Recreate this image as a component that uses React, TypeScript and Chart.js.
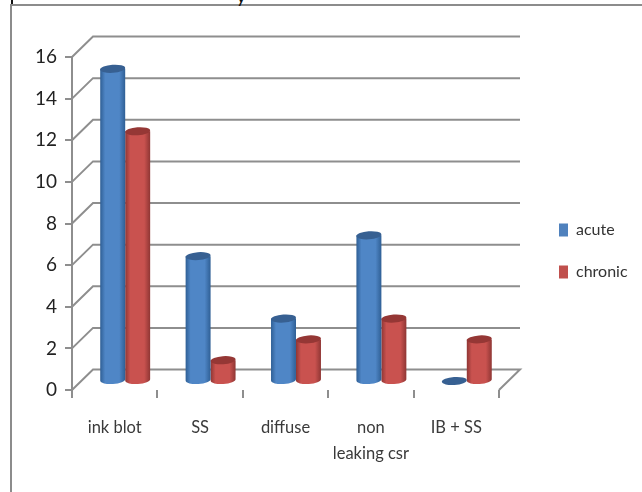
import React, { useEffect, useRef } from "react";
import { Chart, registerables } from "chart.js";

Chart.register(...registerables);

const categories: (string | string[])[] = ["ink blot", "SS", "diffuse", ["non", "leaking csr"], "IB + SS"];
const acute = [15, 6, 3, 7, 0];
const chronic = [12, 1, 2, 3, 2];
const yTicks = [0, 2, 4, 6, 8, 10, 12, 14, 16];

const FONT = "Lato, 'Open Sans', sans-serif";
const GREY = "#8e8e8e";
const DEPTH_X = 21;
const DEPTH_Y = -20.5;
const BAR_DX = 10.5;
const BAR_DY = -9;
const TILT = -0.07;
const RY = 4;

const palette = [
  { edge: "#2f5f95", mid: "#4f86c6", top: "#376092" },
  { edge: "#8f3634", mid: "#c9524f", top: "#953735" },
];

// Walls and floor of the 3D box, derived from the value scale.
const boxPlugin = {
  id: "box",
  beforeDatasetsDraw(chart: any) {
    const { ctx, scales } = chart;
    const y = scales.y;
    const left = scales.x.left;
    const right = scales.x.right;
    ctx.save();
    ctx.strokeStyle = GREY;
    ctx.lineWidth = 2;
    yTicks.forEach((v) => {
      const py = y.getPixelForValue(v);
      ctx.beginPath();
      ctx.moveTo(left, py);
      ctx.lineTo(left + DEPTH_X, py + DEPTH_Y);
      ctx.lineTo(right + DEPTH_X, py + DEPTH_Y);
      if (v === 0) ctx.lineTo(right, py);
      ctx.stroke();
    });
    ctx.restore();
  },
};

// Replaces the flat bars with shaded cylinders at the same scale positions.
const cylinderPlugin = {
  id: "cylinders",
  beforeDatasetDraw(chart: any, args: any) {
    const { ctx } = chart;
    const colors = palette[args.index];
    ctx.save();
    args.meta.data.forEach((bar: any) => {
      const p = bar.getProps(["x", "y", "base", "width"], true);
      const cx = p.x + BAR_DX;
      const rx = p.width / 2;
      const top = p.y + BAR_DY;
      const bottom = p.base + BAR_DY;
      if (bottom - top > 0.5) {
        const g = ctx.createLinearGradient(cx - rx, 0, cx + rx, 0);
        g.addColorStop(0, colors.edge);
        g.addColorStop(0.2, colors.mid);
        g.addColorStop(0.76, colors.mid);
        g.addColorStop(1, colors.edge);
        ctx.fillStyle = g;
        ctx.beginPath();
        ctx.moveTo(cx - rx, top);
        ctx.lineTo(cx - rx, bottom);
        ctx.ellipse(cx, bottom, rx, RY, TILT, Math.PI, 0, true);
        ctx.lineTo(cx + rx, top);
        ctx.closePath();
        ctx.fill();
      }
      ctx.fillStyle = colors.top;
      ctx.beginPath();
      ctx.ellipse(cx, top, rx, RY, TILT, 0, Math.PI * 2);
      ctx.fill();
    });
    ctx.restore();
    return false;
  },
};

// Places the overlay legend to the right of the box.
const legendPlacement = {
  id: "legendPlacement",
  afterLayout(chart: any) {
    const legend = chart.legend;
    legend.left = 533;
    legend.right = 642;
    legend.top = 196;
    legend.bottom = 492;
  },
};

export default function App() {
  const ref = useRef<HTMLCanvasElement>(null);

  useEffect(() => {
    document.body.style.margin = "0";
    const chart = new Chart(ref.current as HTMLCanvasElement, {
      type: "bar",
      data: {
        labels: categories as any,
        datasets: [
          { label: "acute", data: acute, backgroundColor: "#4f81bd", borderWidth: 0 },
          { label: "chronic", data: chronic, backgroundColor: "#c0504d", borderWidth: 0 },
        ],
      },
      options: {
        responsive: false,
        animation: false,
        events: [],
        layout: { padding: { left: 0, top: 57, right: 143, bottom: 0 } },
        datasets: { bar: { categoryPercentage: 0.585, barPercentage: 1 } },
        scales: {
          x: {
            grid: { display: true, drawOnChartArea: false, drawTicks: true, tickLength: 8, color: GREY, lineWidth: 2 },
            border: { display: false },
            ticks: {
              color: "#3a3a3a",
              font: { family: FONT, size: 16.5, lineHeight: 1.56 },
              padding: 17,
              maxRotation: 0,
              autoSkip: false,
            },
            afterFit(scale: any) {
              scale.height = 102;
            },
          },
          y: {
            min: 0,
            max: 16,
            grid: { display: true, drawOnChartArea: false, drawTicks: true, tickLength: 7, color: GREY, lineWidth: 2 },
            border: { display: true, color: GREY, width: 2 },
            afterBuildTicks(scale: any) {
              scale.ticks = yTicks.map((value) => ({ value }));
            },
            ticks: {
              color: "#222222",
              font: { family: FONT, size: 19 },
              padding: 8,
            },
            afterFit(scale: any) {
              scale.width = 72;
            },
          },
        },
        plugins: {
          title: { display: false },
          tooltip: { enabled: false },
          legend: {
            position: "chartArea",
            align: "start",
            labels: {
              boxWidth: 9,
              boxHeight: 13,
              padding: 26,
              color: "#333333",
              font: { family: FONT, size: 16 },
            },
          },
        },
      } as any,
      plugins: [boxPlugin, cylinderPlugin, legendPlacement],
    });
    return () => chart.destroy();
  }, []);

  return (
    <div style={{ position: "absolute", left: 0, top: 0, width: 642, height: 492, background: "#fff", overflow: "hidden" }}>
      <div style={{ position: "absolute", left: 11, top: 0, width: 2, height: 5, background: "#111" }} />
      <div style={{ position: "absolute", left: 10, top: 4, width: 632, height: 2, background: "#8c8c8c" }} />
      <div style={{ position: "absolute", left: 10, top: 4, width: 2, height: 488, background: "#8c8c8c" }} />
      <div style={{ position: "absolute", left: 236, top: -17, fontFamily: FONT, fontSize: 20, lineHeight: "24px", color: "#111" }}>y</div>
      <canvas ref={ref} width={642} height={492} style={{ position: "absolute", left: 0, top: 0, display: "block" }} />
    </div>
  );
}
